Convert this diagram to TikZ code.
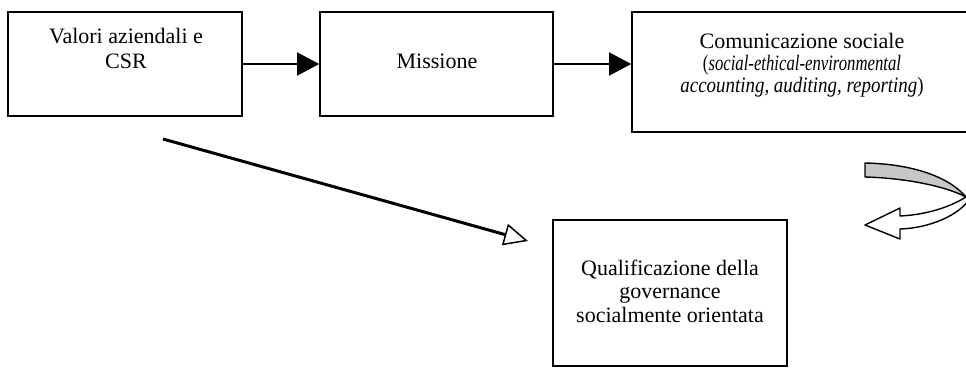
\documentclass[tikz,border=0pt]{standalone}
\usepackage{fontspec}
\setmainfont{Liberation Serif}
\usetikzlibrary{arrows.meta}
\begin{document}
\begin{tikzpicture}[x=1pt,y=-1pt,
  box/.style={draw, line width=1.6pt, inner sep=0pt},
  txt/.style={align=center, inner sep=0pt, font=\fontsize{22}{23.5}\selectfont, anchor=base},
  flow/.style={line width=1.5pt, -{Triangle[length=22pt,width=23pt]}},
  diag/.style={line width=3pt, -{Triangle[open, length=24pt, width=22pt, line width=1.5pt, fill=white]}},
  curvedarrow/.style={draw, line width=1.4pt, line join=round}
]
\useasboundingbox (0,0) rectangle (966,368);
% boxes
\node[box, minimum width=234pt, minimum height=104pt] (b1) at (125,64) {};
\node[box, minimum width=233pt, minimum height=104pt] (b2) at (436.5,64) {};
\node[box, minimum width=338pt, minimum height=120pt] (b3) at (801,72) {};
\node[box, minimum width=234pt, minimum height=146pt] (b4) at (670,293) {};
% texts
\node[txt] (t1) at (126,68) {Valori aziendali e\\[1.5pt]CSR};
\node[txt] (t2) at (437,68) {Missione};
\node[txt, font=\fontsize{22}{22}\selectfont] (t3) at (802,92) {Comunicazione sociale\\\scalebox{0.76}[1]{(\textit{social-ethical-environmental}}\\\scalebox{0.86}[1]{\textit{accounting, auditing, reporting})}};
\node[txt] (t4) at (670,322) {Qualificazione della\\governance\\socialmente orientata};
% connectors
\draw[flow] (b1.east) -- (b2.west);
\draw[flow] (b2.east) -- (b2.east -| b3.west);
\coordinate (d0) at (163,139);
\coordinate (d1) at (528,241);
\draw[diag] (d0) -- (d1);
% curved arrow
\fill[black!22] (865,163) .. controls (915,164) and (950,178) .. (966,197)
  .. controls (945,186) and (905,178) .. (865,177) -- cycle;
\draw[curvedarrow] (865,163) .. controls (915,164) and (950,178) .. (966,197)
  .. controls (945,186) and (905,178) .. (865,177) -- cycle;
\draw[curvedarrow, fill=white] (966,197) .. controls (945,210) and (920,215) .. (900,216)
  -- (900,208) -- (865,225) -- (900,239) -- (900,229)
  .. controls (930,228) and (960,215) .. (970,198);
\end{tikzpicture}
\end{document}
